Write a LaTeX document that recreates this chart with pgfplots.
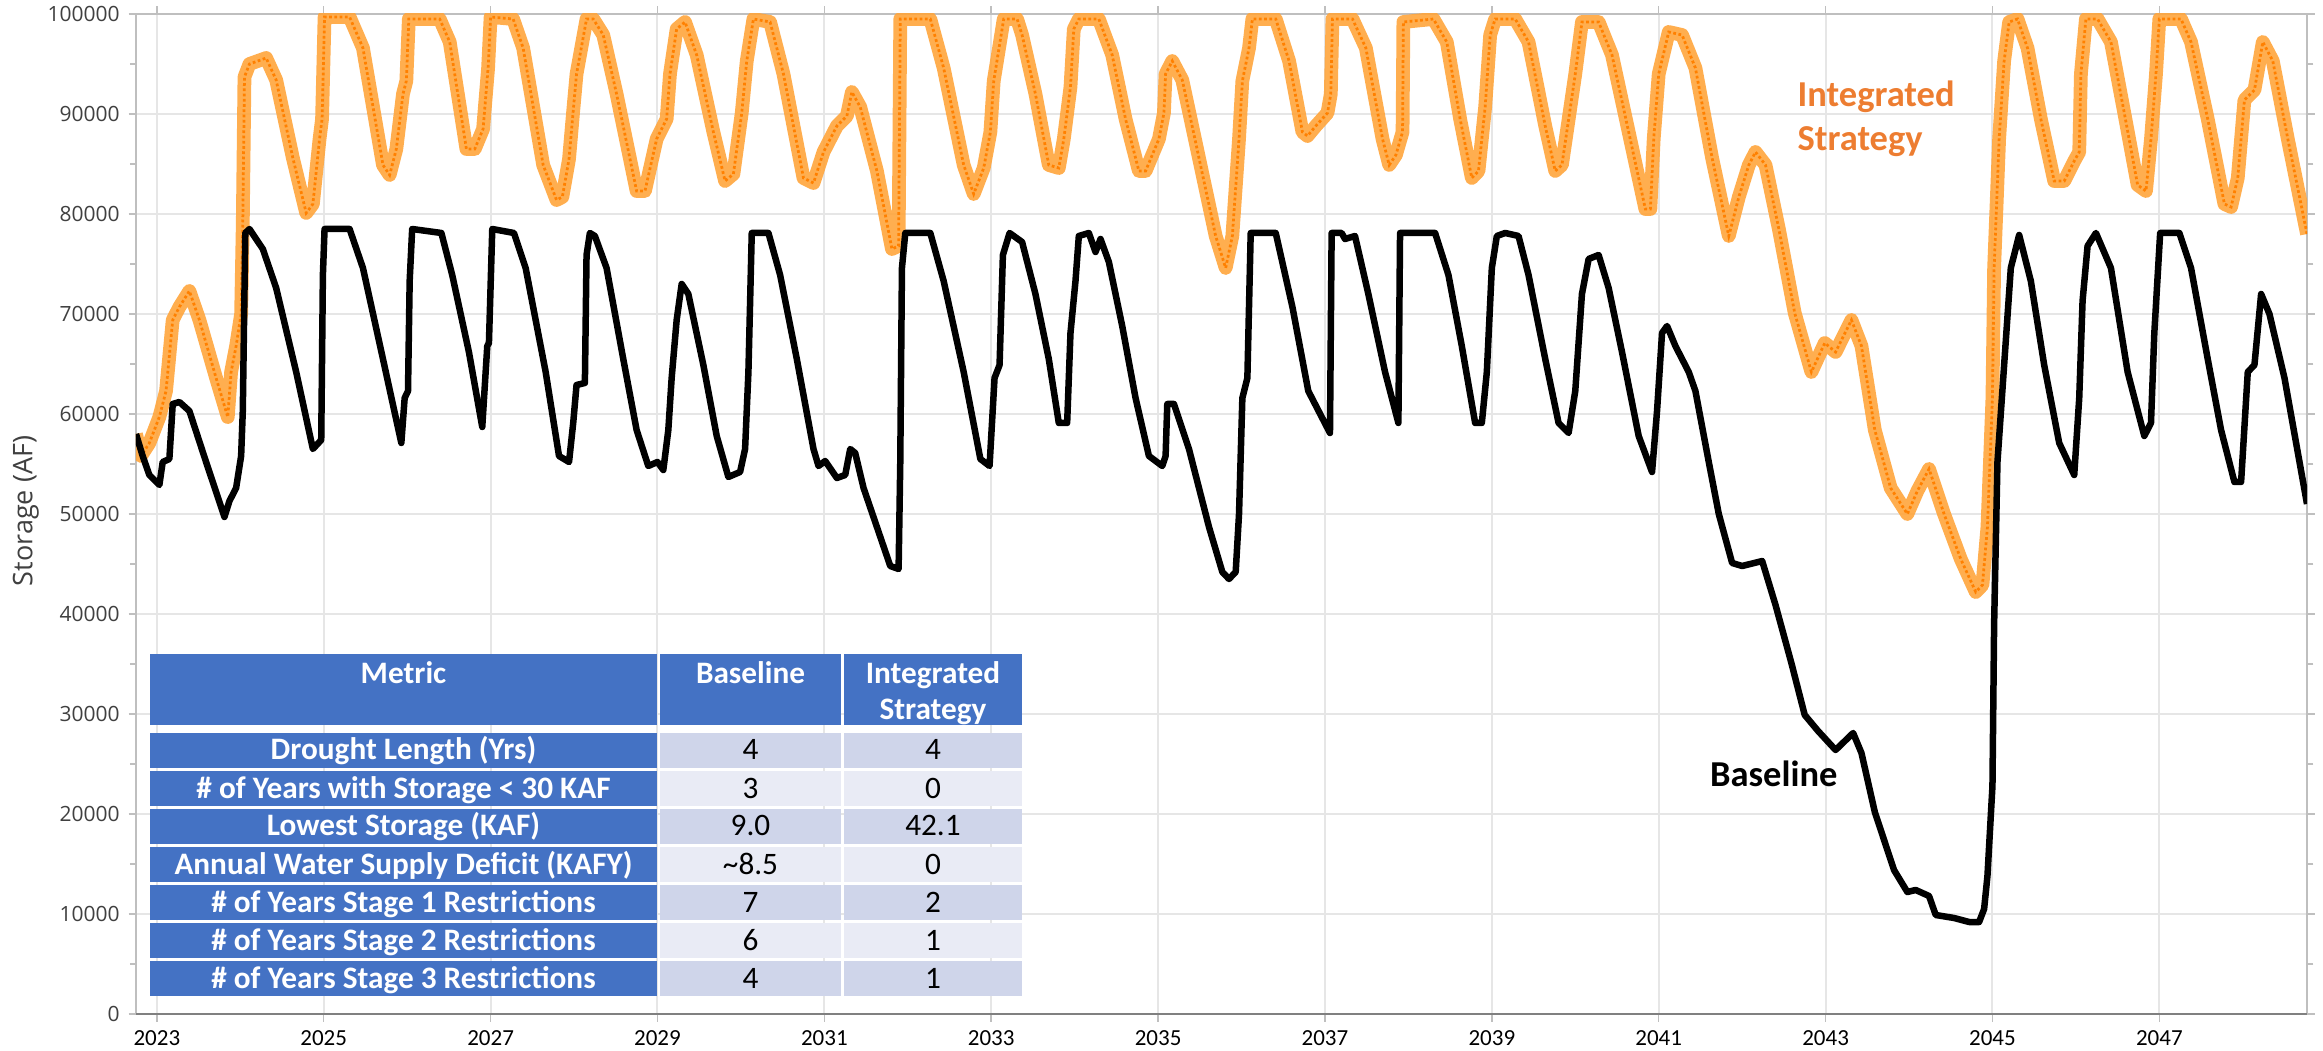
\documentclass[border=0pt]{standalone}
\usepackage{fontspec}
\setmainfont{Carlito}
\newfontfamily\opensans{Open Sans}
\usepackage{pgfplots}
\usepackage{pgfplotstable}
\pgfplotsset{compat=1.18}

\definecolor{tblue}{HTML}{4472C4}
\definecolor{tlight}{HTML}{CFD5EA}
\definecolor{tpale}{HTML}{E9EBF5}
\definecolor{intorange}{HTML}{ED7D31}
\definecolor{bandorange}{HTML}{FFA53C}
\definecolor{dotorange}{HTML}{FF8000}
\definecolor{gridgray}{HTML}{E6E6E6}
\definecolor{axisgray}{HTML}{BFBFBF}
\definecolor{ticktext}{HTML}{404040}

% storage traces (year, AF)
\pgfplotstableread{
year storage
2022.75 58000
2022.83 55800
2022.91 53900
2023.03 52900
2023.07 55200
2023.15 55500
2023.19 61000
2023.27 61200
2023.39 60300
2023.59 55200
2023.81 49700
2023.87 51300
2023.95 52600
2024.01 55800
2024.03 60300
2024.06 78100
2024.11 78500
2024.27 76500
2024.43 72600
2024.67 64200
2024.87 56500
2024.97 57400
2024.99 73900
2025.01 78500
2025.31 78500
2025.47 74600
2025.71 65500
2025.93 57100
2025.97 61600
2026.01 62300
2026.03 73300
2026.06 78500
2026.41 78100
2026.54 73900
2026.74 66200
2026.90 58700
2026.96 66800
2026.98 67100
2027.02 78500
2027.28 78100
2027.42 74600
2027.66 64200
2027.82 55800
2027.94 55200
2027.99 59100
2028.03 62900
2028.13 63100
2028.15 75900
2028.19 78100
2028.25 77800
2028.39 74600
2028.59 65500
2028.75 58400
2028.89 54800
2029.00 55200
2029.07 54400
2029.13 58400
2029.17 63600
2029.23 69400
2029.29 73000
2029.37 72000
2029.55 64900
2029.71 57800
2029.85 53700
2029.99 54200
2030.05 56500
2030.09 64200
2030.13 78100
2030.33 78100
2030.47 73900
2030.67 65500
2030.87 56500
2030.93 54800
2031.01 55300
2031.15 53600
2031.25 53900
2031.31 56500
2031.37 56100
2031.47 52600
2031.63 48700
2031.79 44800
2031.89 44500
2031.91 55200
2031.93 74600
2031.97 78100
2032.27 78100
2032.43 73300
2032.67 64200
2032.87 55500
2032.98 54800
2033.04 63600
2033.10 64900
2033.14 75900
2033.22 78100
2033.37 77200
2033.53 72000
2033.69 65500
2033.81 59100
2033.91 59100
2033.95 68100
2034.01 73300
2034.05 77800
2034.17 78100
2034.25 76200
2034.31 77500
2034.41 75200
2034.57 68800
2034.73 61600
2034.89 55800
2035.05 54800
2035.09 55800
2035.11 61000
2035.19 61000
2035.37 56500
2035.61 48700
2035.77 44200
2035.85 43500
2035.93 44200
2035.97 50000
2036.01 61600
2036.07 63600
2036.11 78100
2036.41 78100
2036.61 70700
2036.80 62300
2037.06 58100
2037.08 78100
2037.20 78100
2037.24 77500
2037.36 77800
2037.52 72000
2037.72 64200
2037.88 59100
2037.90 78100
2038.32 78100
2038.48 73900
2038.64 66800
2038.80 59100
2038.88 59100
2038.94 64200
2039.00 74600
2039.06 77800
2039.16 78100
2039.32 77800
2039.44 73900
2039.64 65500
2039.80 59100
2039.92 58100
2040.00 62300
2040.08 72000
2040.16 75500
2040.28 75900
2040.40 72600
2040.56 66200
2040.76 57800
2040.92 54200
2040.98 60300
2041.04 68100
2041.10 68800
2041.20 66800
2041.36 64200
2041.44 62300
2041.60 55200
2041.72 50000
2041.88 45100
2042.00 44800
2042.24 45300
2042.40 40900
2042.59 35100
2042.75 29900
2042.91 28300
2043.12 26400
2043.33 28100
2043.43 26100
2043.59 20200
2043.82 14400
2043.98 12200
2044.08 12400
2044.24 11800
2044.32 9900
2044.54 9600
2044.72 9200
2044.84 9200
2044.90 10500
2044.94 13800
2045.00 22800
2045.02 39000
2045.06 55200
2045.14 64900
2045.22 74600
2045.32 77900
2045.46 73300
2045.62 64900
2045.80 57100
2045.98 53900
2046.04 61600
2046.08 71300
2046.14 76800
2046.24 78100
2046.42 74600
2046.62 64200
2046.82 57800
2046.90 59100
2046.94 68100
2047.01 78100
2047.24 78100
2047.38 74600
2047.58 65500
2047.74 58400
2047.90 53200
2047.98 53200
2048.06 64200
2048.14 64900
2048.22 72000
2048.32 70000
2048.50 63600
2048.77 51000
}\baselinedata

\pgfplotstableread{
year storage
2022.75 58000
2022.81 55800
2022.91 57100
2023.03 59700
2023.11 62300
2023.19 69400
2023.27 70700
2023.39 72300
2023.51 69400
2023.71 63600
2023.85 59700
2023.89 64200
2023.95 66800
2024.01 70000
2024.03 79100
2024.05 93700
2024.11 95000
2024.31 95600
2024.43 93400
2024.63 85600
2024.79 80100
2024.87 81000
2024.95 87500
2024.98 89500
2025.01 99700
2025.31 99700
2025.47 96600
2025.71 84900
2025.79 83900
2025.87 86500
2025.95 92000
2025.99 93300
2026.02 99500
2026.39 99500
2026.51 97200
2026.71 86500
2026.81 86500
2026.91 88500
2026.97 94600
2027.00 99700
2027.27 99500
2027.39 96600
2027.63 84900
2027.79 81400
2027.86 81700
2027.94 85500
2027.99 90300
2028.03 94000
2028.15 99500
2028.23 99500
2028.35 97900
2028.51 92000
2028.75 82300
2028.85 82300
2028.99 87500
2029.11 89500
2029.15 94000
2029.23 98500
2029.33 99200
2029.47 95900
2029.67 88200
2029.81 83300
2029.91 84000
2030.01 90100
2030.07 95300
2030.15 99500
2030.35 99200
2030.51 94000
2030.75 83600
2030.87 83100
2030.99 86200
2031.15 88800
2031.27 89800
2031.33 92200
2031.43 90700
2031.63 84300
2031.81 76500
2031.89 76800
2031.91 99500
2032.27 99500
2032.43 94600
2032.67 84900
2032.79 82000
2032.91 84600
2032.99 88200
2033.03 93300
2033.15 99500
2033.31 99500
2033.37 97900
2033.53 92000
2033.69 84900
2033.81 84600
2033.87 87500
2033.95 92700
2033.99 98500
2034.05 99500
2034.29 99500
2034.45 95900
2034.61 89500
2034.77 84300
2034.85 84300
2035.01 87500
2035.07 90100
2035.09 94000
2035.17 95300
2035.29 93400
2035.49 85600
2035.69 77800
2035.81 74600
2035.89 77800
2035.97 87500
2036.01 93300
2036.09 96600
2036.13 99500
2036.41 99500
2036.57 95300
2036.73 88200
2036.79 87800
2036.89 88800
2037.03 90100
2037.07 92000
2037.09 99500
2037.33 99500
2037.49 96600
2037.69 87500
2037.77 84900
2037.85 85900
2037.93 88200
2037.94 99200
2038.30 99500
2038.46 97200
2038.62 89500
2038.76 83600
2038.84 84300
2038.92 90700
2038.98 97900
2039.04 99500
2039.28 99500
2039.44 97200
2039.64 88800
2039.76 84300
2039.84 84900
2040.00 94000
2040.08 99200
2040.28 99200
2040.44 95900
2040.64 88200
2040.84 80500
2040.90 80500
2040.94 87500
2041.00 94000
2041.12 98200
2041.28 97900
2041.44 94600
2041.64 85600
2041.84 77800
2041.96 81700
2042.08 84900
2042.16 86200
2042.28 84900
2042.44 78500
2042.63 70100
2042.83 64200
2042.99 67100
2043.12 66200
2043.31 69400
2043.43 66800
2043.59 58400
2043.78 52600
2043.98 50000
2044.10 52300
2044.24 54500
2044.42 50000
2044.62 45500
2044.80 42200
2044.88 42900
2044.94 48700
2045.00 61600
2045.02 74600
2045.08 87500
2045.14 95300
2045.20 99200
2045.30 99500
2045.42 96600
2045.58 89500
2045.74 83300
2045.86 83300
2045.98 85300
2046.04 86200
2046.06 94000
2046.12 99500
2046.26 99500
2046.42 97200
2046.58 90100
2046.74 82900
2046.84 82300
2046.90 87500
2046.96 94000
2047.00 99500
2047.26 99500
2047.38 97200
2047.58 89500
2047.78 81000
2047.86 80700
2047.94 83600
2048.02 91400
2048.14 92400
2048.24 97200
2048.36 95300
2048.54 87500
2048.77 78000
}\integrateddata

\begin{document}
\begin{tikzpicture}
\begin{axis}[
  at={(0,0)}, anchor=south west,
  scale only axis,
  width=868.4pt, height=400pt,
  xmin=2022.75, xmax=2048.77,
  ymin=0, ymax=100000,
  xtick={2023,2025,...,2047},
  ytick={0,10000,...,100000},
  minor y tick num=1,
  scaled y ticks=false,
  scaled x ticks=false,
  /pgf/number format/fixed,
  /pgf/number format/precision=0,
  /pgf/number format/1000 sep={},
  /pgf/number format/assume math mode=true,
  tick align=outside,
  major tick length=3pt,
  minor tick length=2.5pt,
  tick style={draw=axisgray, line width=0.6pt},
  xmajorgrids, ymajorgrids,
  major grid style={draw=gridgray, line width=0.8pt},
  axis line style={draw=axisgray, line width=0.8pt},
  yticklabel style={font=\opensans\fontsize{8.4}{10}\selectfont, text=ticktext},
  xticklabel style={font=\fontsize{9.2}{11}\selectfont, text=black},
  ylabel={Storage (AF)},
  ylabel style={font=\opensans\fontsize{10.8}{12}\selectfont, text=ticktext,
    at={(axis description cs:-0.0507,0.503)}, anchor=center},
]
\addplot[bandorange, line width=5.5pt, line join=round, opacity=0.9]
  table[x=year, y=storage] {\integrateddata};
\addplot[dotorange, line width=1.1pt, densely dotted]
  table[x=year, y=storage] {\integrateddata};
\addplot[black, line width=2.6pt, line join=round]
  table[x=year, y=storage] {\baselinedata};

\node[anchor=base west, inner sep=0, text=intorange,
  font=\fontsize{14.6}{17}\selectfont\bfseries] at (axis cs:2042.66,90700) {Integrated};
\node[anchor=base west, inner sep=0, text=intorange,
  font=\fontsize{14.6}{17}\selectfont\bfseries] at (axis cs:2042.66,86300) {Strategy};
\node[anchor=base west, inner sep=0, text=black,
  font=\fontsize{14.6}{17}\selectfont\bfseries] at (axis cs:2041.61,22700) {Baseline};
\end{axis}
\draw[gray, line width=0.8pt] (0,0) -- (868.4pt,0);

% metrics table
\tikzset{
  hdr/.style={anchor=base, inner sep=0, text=white, font=\fontsize{12.5}{14}\selectfont\bfseries},
  cell/.style={anchor=base, inner sep=0, text=black, font=\fontsize{12.5}{14}\selectfont}
}
\fill[tblue] (5.6pt,115.6pt) rectangle (208.4pt,144pt);
\fill[tblue] (209.6pt,115.6pt) rectangle (282pt,144pt);
\fill[tblue] (283.2pt,115.6pt) rectangle (354.4pt,144pt);
\node[hdr] at (107pt,132pt) {Metric};
\node[hdr] at (245.8pt,132pt) {Baseline};
\begin{scope}
  \clip (283.2pt,115.6pt) rectangle (354.4pt,144pt);
  \node[hdr] at (318.8pt,132pt) {Integrated};
  \node[hdr] at (318.8pt,117.6pt) {Strategy};
\end{scope}
\foreach \i/\fc/\m/\b/\s in {
  1/tlight/Drought Length (Yrs)/4/4,
  2/tpale/\# of Years with Storage < 30 KAF/3/0,
  3/tlight/Lowest Storage (KAF)/9.0/42.1,
  4/tpale/Annual Water Supply Deficit (KAFY)/\textasciitilde8.5/0,
  5/tlight/\# of Years Stage 1 Restrictions/7/2,
  6/tpale/\# of Years Stage 2 Restrictions/6/1,
  7/tlight/\# of Years Stage 3 Restrictions/4/1}{
  \pgfmathsetmacro\rt{127.6-15.2*\i}
  \pgfmathsetmacro\rb{113.6-15.2*\i}
  \pgfmathsetmacro\bl{116.8-15.2*\i}
  \fill[tblue] (5.6pt,\rb pt) rectangle (208.4pt,\rt pt);
  \fill[\fc] (209.6pt,\rb pt) rectangle (282pt,\rt pt);
  \fill[\fc] (283.2pt,\rb pt) rectangle (354.4pt,\rt pt);
  \node[hdr] at (107pt,\bl pt) {\m};
  \node[cell] at (245.8pt,\bl pt) {\b};
  \node[cell] at (318.8pt,\bl pt) {\s};
}

\pgfresetboundingbox
\path[use as bounding box] (-54.4pt,-14.8pt) rectangle (874.8pt,405.6pt);
\end{tikzpicture}
\end{document}
